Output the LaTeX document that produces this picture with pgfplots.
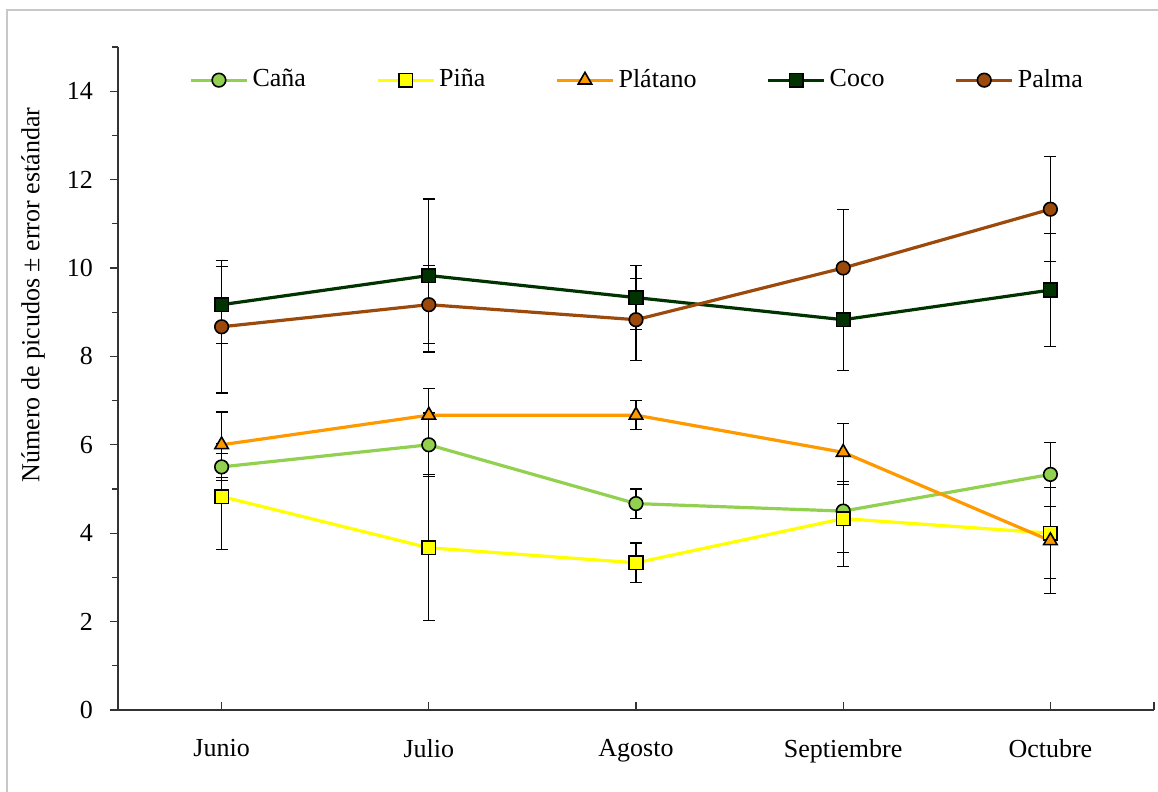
\documentclass[border=0pt]{standalone}
\usepackage{pgfplots}
\pgfplotsset{compat=1.18}
\usepackage{pgfplotstable}
\usepackage{fontspec}
\setmainfont{Liberation Serif}
\definecolor{cana}{HTML}{92D050}
\definecolor{pina}{HTML}{FFFF00}
\definecolor{platano}{HTML}{FF9900}
\definecolor{coco}{HTML}{003300}
\definecolor{palma}{HTML}{9C4A0C}
\definecolor{framegray}{HTML}{C8C8C8}

\pgfplotstableread{
x y e
0 5.50 0.30
1 6.00 0.72
2 4.67 0.33
3 4.50 1.26
4 5.33 0.72
}\cana
\pgfplotstableread{
x y e
0 4.83 1.20
1 3.67 1.65
2 3.33 0.45
3 4.33 0.77
4 4.00 1.03
}\pina
\pgfplotstableread{
x y e
0 6.00 0.74
1 6.67 0.60
2 6.67 0.33
3 5.83 0.66
4 3.83 1.20
}\platano
\pgfplotstableread{
x y e
0 9.17 0.87
1 9.83 1.73
2 9.33 0.72
3 8.83 1.15
4 9.50 1.28
}\coco
\pgfplotstableread{
x y e
0 8.67 1.50
1 9.17 0.88
2 8.83 0.93
3 10.00 1.33
4 11.33 1.19
}\palma

\begin{document}
\fontsize{13}{15}\selectfont
\begin{tikzpicture}
\useasboundingbox (0,0) rectangle (579pt,396pt);
\draw[framegray, line width=0.75pt] (3.5pt,-2pt) -- (3.5pt,391pt) -- (582pt,391pt);
\begin{axis}[
  at={(59pt,41pt)}, anchor=south west,
  scale only axis, width=518pt, height=331.5pt,
  xmin=-0.5, xmax=4.5, ymin=0, ymax=15,
  axis lines=left, axis line style={-, line width=0.7pt, black!80},
  xtick={0,1,2,3,4}, xticklabels={Junio,Julio,Agosto,Septiembre,Octubre},
  extra x ticks={4.5}, extra x tick labels={},
  ytick={0,2,...,14}, minor ytick={1,3,...,15},
  tick align=outside, major tick length=4pt, minor tick length=3pt,
  tick style={black!80, line width=0.6pt},
  x tick style={yshift=4pt},
  font=\fontsize{13}{15}\selectfont,
  /pgf/number format/assume math mode=true,
  yticklabel style={xshift=-4pt},
  xticklabel style={yshift=-6pt},
  ylabel={Número de picudos ± error estándar},
  ylabel style={at={(axis description cs:-0.082,0.626)}, anchor=center},
  legend columns=5,
  legend style={draw=none, fill=none, at={(axis description cs:0.502,0.95)}, anchor=center,
    font=\fontsize{13}{15}\selectfont,
    /tikz/every even column/.append style={column sep=33pt},
    nodes={inner xsep=2pt}},
  legend image code/.code={\draw[mark repeat=2,mark phase=2,#1] plot coordinates {(0pt,0pt) (14pt,0pt) (28pt,0pt)};},
  every axis plot/.append style={line width=1.6pt},
  error bars/y dir=both, error bars/y explicit,
  error bars/error bar style={black, line width=0.6pt, solid},
  error bars/error mark options={rotate=90, mark size=3pt, black, line width=0.6pt},
]
\addplot[cana, mark=*, mark size=3.4pt, mark options={draw=black, fill=cana, line width=0.8pt}]
  table[x=x, y=y, y error=e] {\cana};
\addlegendentry{Caña}
\addplot[pina, mark=square*, mark size=3.4pt, mark options={draw=black, fill=pina, line width=0.8pt}]
  table[x=x, y=y, y error=e] {\pina};
\addlegendentry{Piña}
\addplot[platano, mark=triangle*, mark size=3.9pt, mark options={draw=black, fill=platano, line width=0.8pt}]
  table[x=x, y=y, y error=e] {\platano};
\addlegendentry{Plátano}
\addplot[coco, mark=square*, mark size=3.4pt, mark options={draw=black, fill=coco, line width=0.8pt}]
  table[x=x, y=y, y error=e] {\coco};
\addlegendentry{Coco}
\addplot[palma, mark=*, mark size=3.4pt, mark options={draw=black, fill=palma, line width=0.8pt}]
  table[x=x, y=y, y error=e] {\palma};
\addlegendentry{Palma}
\end{axis}
\end{tikzpicture}
\end{document}
